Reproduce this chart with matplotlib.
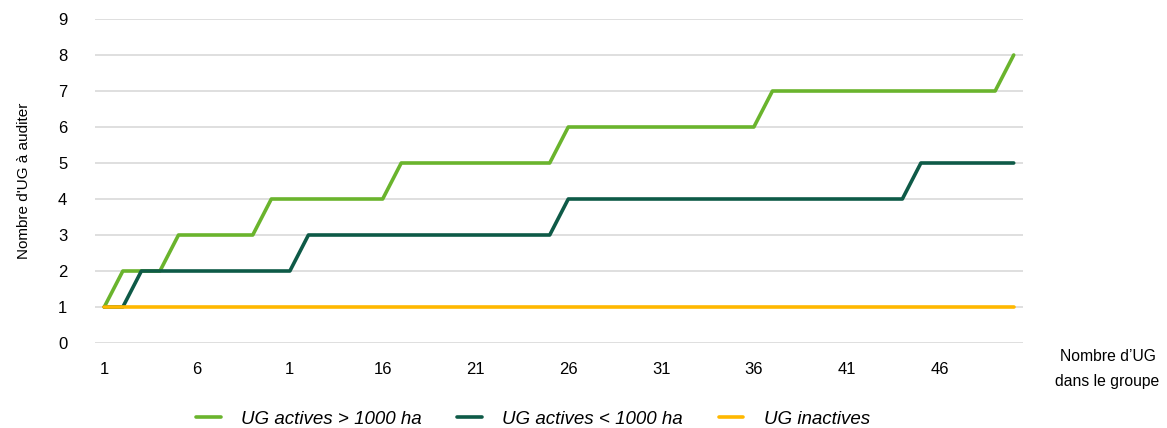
import numpy as np
import matplotlib.pyplot as plt

plt.rcParams['font.family'] = ['Liberation Sans', 'DejaVu Sans']

# group size 1..50
group_size = np.arange(1, 51)

# UG actives > 1000 ha
actives_big = ([1] + [2] * 3 + [3] * 5 + [4] * 7 + [5] * 9
               + [6] * 11 + [7] * 13 + [8])
# UG actives < 1000 ha
actives_small = ([1] * 2 + [2] * 9 + [3] * 14 + [4] * 19 + [5] * 6)
# UG inactives
inactives = [1] * 50

x_ticks = [1, 6, 11, 16, 21, 26, 31, 36, 41, 46]
x_tick_labels = ['1', '6', '1', '16', '21', '26', '31', '36', '41', '46']

fig = plt.figure(figsize=(11.67, 4.28), dpi=100)
ax = fig.add_axes([0.0814, 0.1986, 0.7952, 0.757])

ax.plot(group_size, actives_big, color='#6AB42D', lw=2.6,
        solid_capstyle='round', label='UG actives > 1000 ha', zorder=3)
ax.plot(group_size, actives_small, color='#0E5A47', lw=2.6,
        solid_capstyle='round', label='UG actives < 1000 ha', zorder=3)
ax.plot(group_size, inactives, color='#FFB800', lw=2.6,
        solid_capstyle='round', label='UG inactives', zorder=4)

ax.set_xlim(0.5, 50.5)
ax.set_ylim(0, 9)
ax.set_yticks(range(0, 10))
ax.set_xticks(x_ticks)
ax.set_xticklabels(x_tick_labels)
ax.tick_params(length=0, labelsize=12, colors='#000000')
ax.tick_params(axis='y', pad=20)
ax.tick_params(axis='x', pad=14)
ax.grid(axis='y', color='#D9D9D9', lw=1.2)
ax.set_axisbelow(True)
for s in ax.spines.values():
    s.set_visible(False)

ax.set_ylabel("Nombre d'UG à auditer", fontsize=11, labelpad=19)
fig.text(0.949, 0.138, 'Nombre d\u2019UG\ndans le groupe', ha='center',
         va='center', fontsize=11.3, linespacing=1.85)

leg = ax.legend(loc='center', bbox_to_anchor=(0.472, -0.235), ncol=3,
                frameon=False, prop={'style': 'italic', 'size': 13.5},
                handlelength=1.3, columnspacing=1.9, handletextpad=1.1)

fig.savefig('out.png', dpi=100)
